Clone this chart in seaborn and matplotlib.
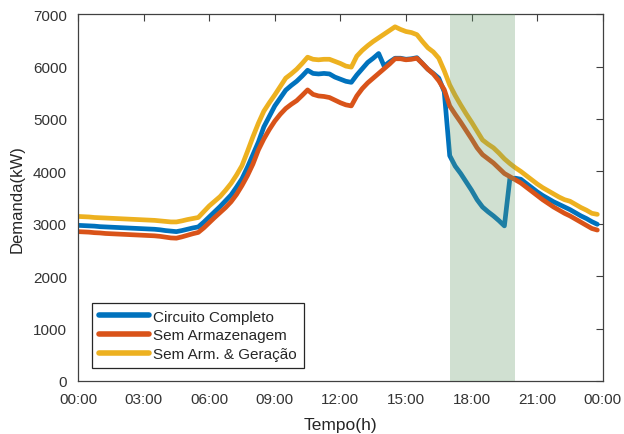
import numpy as np
import pandas as pd
import matplotlib
matplotlib.use("Agg")
import matplotlib.pyplot as plt
import seaborn as sns

# time of day in hours, 15 min steps
tempo = np.arange(96) * 0.25

circuito_completo = [
    2970, 2965, 2960, 2955, 2945, 2940, 2935, 2930, 2925, 2920, 2915, 2910,
    2905, 2900, 2895, 2885, 2870, 2860, 2850, 2870, 2895, 2920, 2940, 3030,
    3130, 3230, 3330, 3440, 3550, 3700, 3860, 4080, 4320, 4560, 4850, 5050,
    5250, 5400, 5550, 5640, 5720, 5820, 5930, 5870, 5860, 5870, 5860, 5800,
    5760, 5720, 5700, 5840, 5960, 6080, 6160, 6250, 6010, 6090, 6160, 6160,
    6140, 6150, 6170, 6060, 5950, 5870, 5780, 5520, 4300, 4100, 3960, 3800,
    3640, 3460, 3320, 3230, 3150, 3060, 2960, 3860, 3870, 3850, 3770, 3690,
    3610, 3540, 3480, 3420, 3370, 3320, 3270, 3210, 3150, 3100, 3040, 2990,
]
sem_armazenagem = [
    2850, 2845, 2840, 2830, 2825, 2815, 2810, 2805, 2800, 2795, 2790, 2785,
    2780, 2775, 2770, 2760, 2745, 2730, 2725, 2750, 2780, 2810, 2835, 2920,
    3020, 3120, 3215, 3310, 3420, 3560, 3730, 3920, 4140, 4410, 4620, 4800,
    4960, 5090, 5200, 5280, 5350, 5450, 5555, 5470, 5440, 5430, 5410, 5360,
    5310, 5270, 5250, 5440, 5580, 5690, 5780, 5870, 5960, 6050, 6150, 6150,
    6130, 6140, 6160, 6060, 5950, 5860, 5730, 5560, 5250, 5090, 4940, 4780,
    4620, 4450, 4320, 4240, 4160, 4060, 3960, 3900, 3840, 3780, 3700, 3620,
    3540, 3460, 3390, 3320, 3260, 3200, 3150, 3090, 3030, 2970, 2910, 2880,
]
sem_arm_geracao = [
    3140, 3135, 3130, 3120, 3115, 3110, 3105, 3100, 3095, 3090, 3085, 3080,
    3075, 3070, 3065, 3055, 3045, 3035, 3035, 3055, 3080, 3100, 3120, 3230,
    3340, 3430, 3520, 3640, 3770, 3930, 4110, 4380, 4660, 4920, 5150, 5310,
    5460, 5620, 5780, 5860, 5950, 6060, 6180, 6140, 6130, 6140, 6140, 6100,
    6060, 6010, 5990, 6200, 6310, 6400, 6480, 6550, 6620, 6690, 6760, 6710,
    6670, 6650, 6610, 6480, 6360, 6280, 6160, 5920, 5650, 5450, 5270, 5100,
    4940, 4770, 4600, 4520, 4450, 4350, 4240, 4150, 4070, 4000, 3920, 3840,
    3760, 3690, 3630, 3570, 3510, 3460, 3430, 3370, 3310, 3260, 3200, 3180,
]

series_names = ["Circuito Completo", "Sem Armazenagem", "Sem Arm. & Geração"]
cores = ["#0072BD", "#D95319", "#EDB120"]
janela = [17, 20]  # highlighted interval (h)
xticks = [0, 3, 6, 9, 12, 15, 18, 21, 24]
xtick_labels = ["00:00", "03:00", "06:00", "09:00", "12:00",
                "15:00", "18:00", "21:00", "00:00"]

df = pd.DataFrame({
    "tempo": np.tile(tempo, 3),
    "demanda": circuito_completo + sem_armazenagem + sem_arm_geracao,
    "serie": np.repeat(series_names, len(tempo)),
})

sns.set_style("white")
plt.rcParams["font.family"] = ["Liberation Sans", "DejaVu Sans"]

fig, ax = plt.subplots(figsize=(6.24, 4.35), dpi=100)
fig.subplots_adjust(left=0.125, right=0.966, top=0.965, bottom=0.122)

sns.lineplot(data=df, x="tempo", y="demanda", hue="serie",
             hue_order=series_names, palette=cores, linewidth=3.4, ax=ax)

# shaded window drawn over the lines
ax.axvspan(janela[0], janela[1], color="#649b69", alpha=0.3, lw=0, zorder=5)

ax.set_xlim(0, 24)
ax.set_ylim(0, 7000)
ax.set_xticks(xticks)
ax.set_xticklabels(xtick_labels)
ax.set_yticks(range(0, 7001, 1000))
ax.tick_params(direction="in", length=5, width=0.8, colors="#404040",
               labelcolor="#333333", labelsize=11, top=True, right=True,
               pad=8)
for s in ax.spines.values():
    s.set_visible(True)
    s.set_color("#404040")
    s.set_linewidth(0.9)

ax.set_xlabel("Tempo(h)", fontsize=12.5, color="#262626", labelpad=8)
ax.set_ylabel("Demanda(kW)", fontsize=12, color="#262626", labelpad=6)

leg = ax.legend(loc="lower left", bbox_to_anchor=(0.012, 0.015),
                fontsize=11, handlelength=3.3, handletextpad=0.25,
                labelspacing=0.3, borderpad=0.45, fancybox=False,
                framealpha=1, edgecolor="#262626")
leg.get_frame().set_linewidth(0.9)
for line in leg.get_lines():
    line.set_linewidth(4)

fig.savefig("out.png", dpi=100)
